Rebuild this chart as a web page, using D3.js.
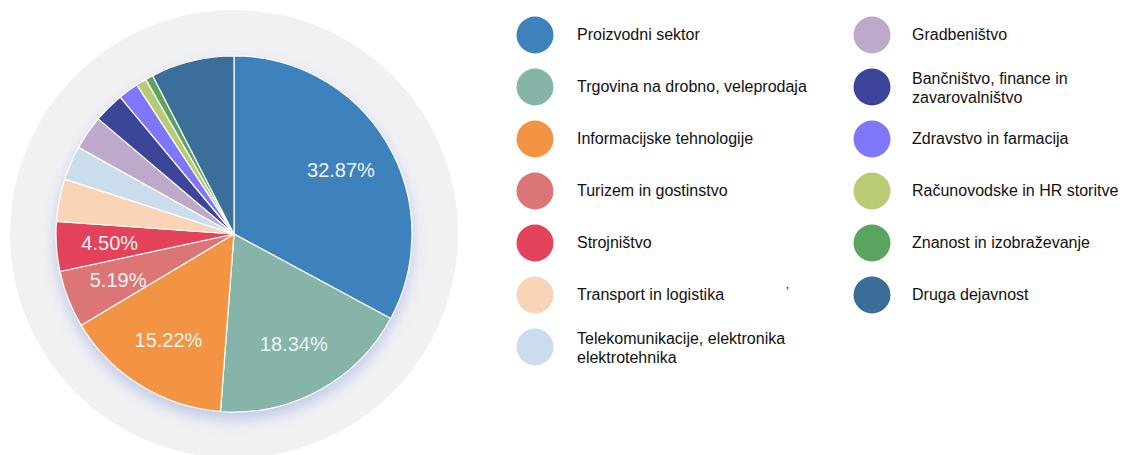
<!DOCTYPE html>
<html>
<head>
<meta charset="utf-8">
<script src="https://cdn.jsdelivr.net/npm/d3@7"></script>
<style>
  body { margin:0; background:#fff; }
  svg text { font-family: "Liberation Sans", Arial, Helvetica, sans-serif; }
</style>
</head>
<body>
<svg id="chart" width="1137" height="455"></svg>
<script>
// sectors (legend order = slice order, clockwise from 12 o'clock)
var sectors = [
  ["Proizvodni sektor"],
  ["Trgovina na drobno, veleprodaja"],
  ["Informacijske tehnologije"],
  ["Turizem in gostinstvo"],
  ["Strojništvo"],
  ["Transport in logistika"],
  ["Telekomunikacije, elektronika", "elektrotehnika"],
  ["Gradbeništvo"],
  ["Bančništvo, finance in", "zavarovalništvo"],
  ["Zdravstvo in farmacija"],
  ["Računovodske in HR storitve"],
  ["Znanost in izobraževanje"],
  ["Druga dejavnost"]
]
var shares = [32.87, 18.34, 15.22, 5.19, 4.50, 3.87, 3.10, 3.10, 2.78, 1.84, 0.94, 0.70, 7.55]
var colors = ["#3d82bd", "#86b4a8", "#f39444", "#dc7676", "#e4425a", "#f9d4b7",
              "#cbddec", "#bea9cb", "#3e4499", "#7f76fa", "#b9cc73", "#5ba45d", "#3a6e98"]
// only the first five slices carry a % label
var labelCount = 5

var screen = {width:1137, height:455}
var pieCenter = {x:234, y:234}
var radius = 178

var svg = d3.select("#chart")
    .attr("width", screen.width)
    .attr("height", screen.height)

var defs = svg.append("defs")
var shadow = defs.append("filter")
    .attr("id", "pieShadow")
    .attr("x", "-20%").attr("y", "-20%")
    .attr("width", "140%").attr("height", "140%")
shadow.append("feDropShadow")
    .attr("dx", 0).attr("dy", 7)
    .attr("stdDeviation", 7)
    .attr("flood-color", "#8f9ee0")
    .attr("flood-opacity", 0.5)

var drawPie = function()
{
    var g = svg.append("g")
        .attr("transform", "translate(" + pieCenter.x + "," + pieCenter.y + ")")

    // grey halo behind the pie
    g.append("circle")
        .attr("r", 224)
        .attr("fill", "#f0f1f3")

    var pie = d3.pie()
        .sort(null)
        .value(function(d){ return d })

    var arc = d3.arc()
        .innerRadius(0)
        .outerRadius(radius)

    var arcs = pie(shares)

    var slices = g.append("g")
        .attr("filter", "url(#pieShadow)")

    slices.selectAll("path")
        .data(arcs)
        .enter()
        .append("path")
        .attr("d", arc)
        .attr("fill", function(d, i){ return colors[i] })
        .attr("stroke", "#ffffff")
        .attr("stroke-width", 1.2)
        .attr("stroke-linejoin", "round")

    var labelArc = d3.arc()
        .innerRadius(radius * 0.7)
        .outerRadius(radius * 0.7)

    g.selectAll("text.pct")
        .data(arcs.slice(0, labelCount))
        .enter()
        .append("text")
        .attr("class", "pct")
        .attr("transform", function(d){
            var c = labelArc.centroid(d)
            return "translate(" + c[0] + "," + c[1] + ")"
        })
        .attr("text-anchor", "middle")
        .attr("dy", "0.36em")
        .attr("fill", "#f2f2f2")
        .attr("font-size", 20)
        .text(function(d){ return d.data.toFixed(2) + "%" })
}

var drawLegend = function()
{
    var cols = [{x:535, tx:577}, {x:872, tx:912}]
    var rowY = d3.scaleLinear().domain([0, 6]).range([35, 347])

    var legend = svg.append("g").attr("class", "legend")

    sectors.forEach(function(lines, i){
        var col = cols[i < 7 ? 0 : 1]
        var row = i < 7 ? i : i - 7
        var cy = rowY(row)
        var item = legend.append("g")

        item.append("circle")
            .attr("cx", col.x)
            .attr("cy", cy)
            .attr("r", 18.5)
            .attr("fill", colors[i])

        var t = item.append("text")
            .attr("x", col.tx)
            .attr("font-size", 16)
            .attr("fill", "#111")

        if (lines.length == 1) {
            t.attr("y", cy + 5).text(lines[0])
        } else {
            t.attr("y", cy - 3)
            t.append("tspan").attr("x", col.tx).text(lines[0])
            t.append("tspan").attr("x", col.tx).attr("dy", 18.5).text(lines[1])
        }
    })

    // stray mark present in the original
    legend.append("text")
        .attr("x", 786)
        .attr("y", 296)
        .attr("font-size", 13)
        .attr("fill", "#111")
        .text("’")
}

drawPie()
drawLegend()
</script>
</body>
</html>
